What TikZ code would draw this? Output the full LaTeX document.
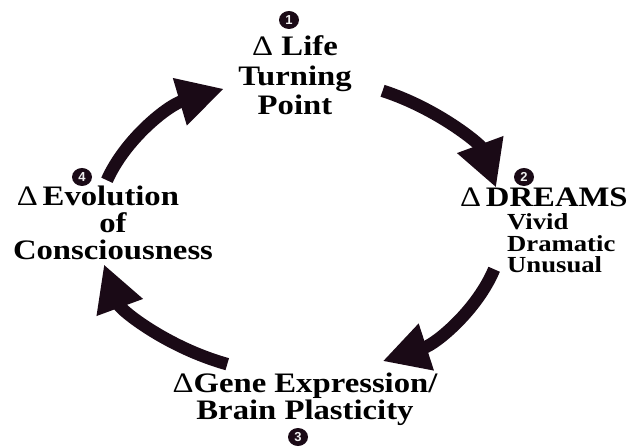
\documentclass[tikz,border=0pt]{standalone}
\usepackage{fontspec}
\setmainfont{Liberation Serif}[FakeStretch=1.16]
\newfontfamily\badgefont{Liberation Sans}
\usetikzlibrary{arrows.meta,shapes.geometric}
\definecolor{ink}{RGB}{26,10,22}
\begin{document}
\begin{tikzpicture}[x=1pt,y=1pt,
  big/.style={font=\fontsize{28.2}{27}\selectfont\bfseries, inner sep=0pt, align=center},
  small/.style={font=\fontsize{23}{21.5}\selectfont\bfseries, inner sep=0pt, align=left},
  badge/.style={ellipse, fill=ink, minimum width=20pt, minimum height=18pt, inner sep=0pt,
    text=white!88!gray, font=\badgefont\bfseries\fontsize{13}{13}\selectfont},
  cyc/.style={draw=ink, line width=12.5pt, -{Triangle[length=46pt,width=46pt]}}
]
\useasboundingbox (0,0) rectangle (628,447);
\coordinate (ctr) at (300,221);

\node[big, font=\fontsize{28.2}{29.5}\selectfont\bfseries, anchor=base] (life) at (295,332) {\textmd{Δ} Life\\Turning\\Point};
\node[big, anchor=base west] (dreams) at (460,240) {\textmd{Δ}\,DREAMS};
\node[small, anchor=base west] (kinds) at (507,174) {Vivid\\Dramatic\\Unusual};
\node[big, anchor=base] (gene) at (305,28) {\textmd{Δ}Gene Expression/\\Brain Plasticity};
\node[big, anchor=base] (evol) at (113,187) {\textmd{Δ}\,Evolution\hspace*{30pt}\\of\\Consciousness};

\node[badge] (n1) at (289,427) {1};
\node[badge] (n2) at (524,270) {2};
\node[badge] (n3) at (298,10) {3};
\node[badge] (n4) at (82,270) {4};

\path (ctr) ++(162:203pt and 148pt) coordinate (a1s);
\path (ctr) ++(66:203pt and 148pt) coordinate (a2s);
\path (ctr) ++(-17:203pt and 148pt) coordinate (a3s);
\path (ctr) ++(-111:203pt and 148pt) coordinate (a4s);

\draw[cyc] (a1s) arc[start angle=162, end angle=112, x radius=203pt, y radius=148pt];
\draw[cyc] (a2s) arc[start angle=66, end angle=15, x radius=203pt, y radius=148pt];
\draw[cyc] (a3s) arc[start angle=-17, end angle=-66, x radius=203pt, y radius=148pt];
\draw[cyc] (a4s) arc[start angle=-111, end angle=-165, x radius=203pt, y radius=148pt];
\end{tikzpicture}
\end{document}
